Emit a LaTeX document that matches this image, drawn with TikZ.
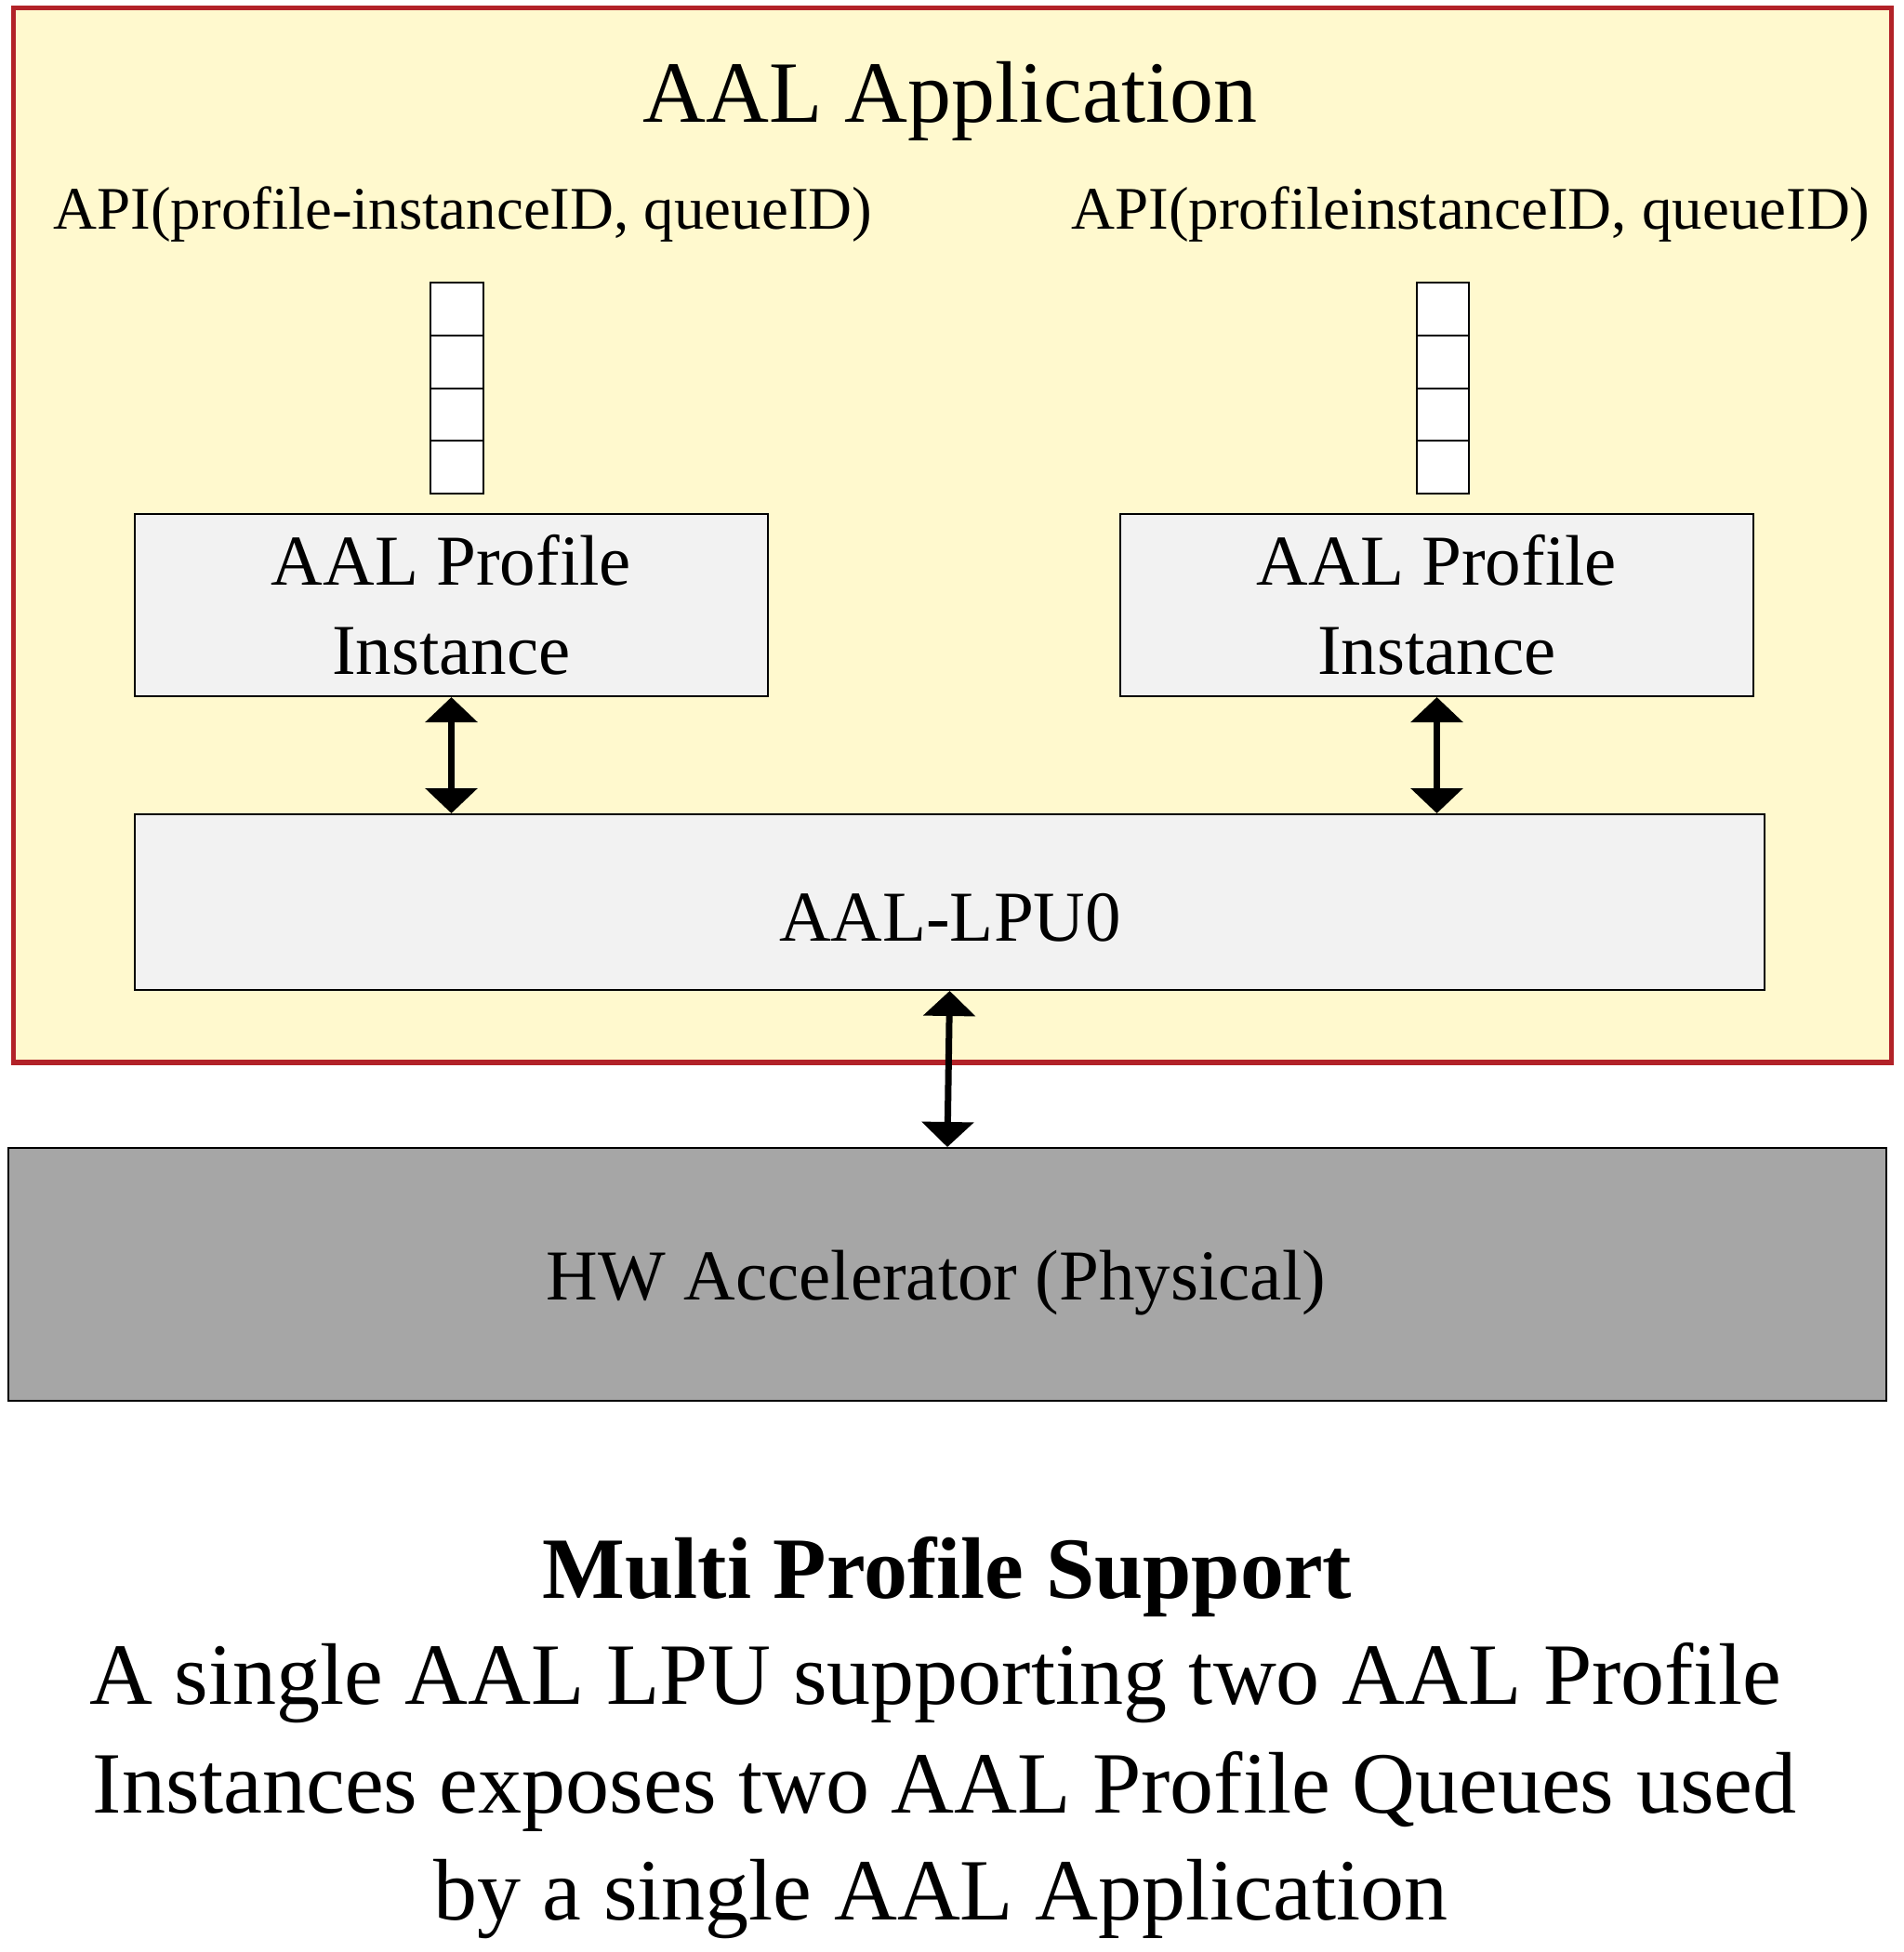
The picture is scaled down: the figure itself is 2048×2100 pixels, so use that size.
\documentclass[tikz,border=0pt]{standalone}
\usepackage{fontspec}
\setmainfont{Liberation Serif}
\usetikzlibrary{arrows.meta,fit}
\definecolor{appfill}{HTML}{FFF9CE}
\definecolor{appred}{HTML}{B22228}
\definecolor{boxfill}{HTML}{F2F2F2}
\definecolor{hwfill}{HTML}{A6A6A6}
\tikzset{
  plainbox/.style={draw=black, line width=1pt, inner sep=0pt, fill=boxfill},
  cell/.style={draw=black, line width=1pt, inner sep=0pt, fill=white},
  biarrow/.style={line width=3.5pt, {Triangle[width=27.5pt,length=13.5pt]}-{Triangle[width=27.5pt,length=13.5pt]}},
  bigtext/.style={font={\fontsize{47pt}{56pt}\selectfont}},
  apitext/.style={font={\fontsize{32.5pt}{39pt}\selectfont}},
  boxtext/.style={font={\fontsize{38.5pt}{48pt}\selectfont}},
}
\begin{document}
\begin{tikzpicture}[x=0.5pt,y=-0.5pt]
\useasboundingbox (0,0) rectangle (2048,2100);
% application frame
\node[draw=appred, line width=2.7pt, fill=appfill, inner sep=0pt, fit={(14.5,8.5)(2034.5,1143)}] (app) {};
\node[bigtext, anchor=base] (title) at (1022,131) {AAL Application};
\node[apitext, anchor=base] (apiL) at (498,246) {API(profile-instanceID, queueID)};
\node[apitext, anchor=base] (apiR) at (1582,246) {API(profileinstanceID, queueID)};
% queues
\node[cell, fit={(463,304)(520,361)}] (qL1) {};
\node[cell, fit={(463,361)(520,417.5)}] (qL2) {};
\node[cell, fit={(463,417.5)(520,474)}] (qL3) {};
\node[cell, fit={(463,474)(520,531)}] (qL4) {};
\node[cell, fit={(1524,304)(1580,361)}] (qR1) {};
\node[cell, fit={(1524,361)(1580,417.5)}] (qR2) {};
\node[cell, fit={(1524,417.5)(1580,474)}] (qR3) {};
\node[cell, fit={(1524,474)(1580,531)}] (qR4) {};
% profile instances
\node[plainbox, fit={(145,553)(826,749)}] (profL) {};
\node[boxtext, align=center] (profLtext) at (profL.center) {AAL Profile\\Instance};
\node[plainbox, fit={(1205,553)(1886,749)}] (profR) {};
\node[boxtext, align=center] (profRtext) at (profR.center) {AAL Profile\\Instance};
% LPU
\node[plainbox, fit={(145,876)(1898,1065)}] (lpu) {};
\node[boxtext, anchor=base] (lputext) at (1022,1012) {AAL-LPU0};
% HW
\node[draw=black, line width=1pt, fill=hwfill, inner sep=0pt, fit={(9,1235)(2029,1507)}] (hw) {};
\node[boxtext, anchor=base] (hwtext) at (1007,1398) {HW Accelerator (Physical)};
% arrows
\draw[biarrow] (profL.south) -- (profL.south |- lpu.north);
\draw[biarrow] (profR.south) -- (profR.south |- lpu.north);
\draw[biarrow] (lpu.south) -- (hw.north);
% caption
\node[bigtext, anchor=base, font={\fontsize{47pt}{56pt}\selectfont\bfseries}] (cap0) at (1019,1719) {Multi Profile Support};
\node[bigtext, anchor=base] (cap1) at (1006,1833) {A single AAL LPU supporting two AAL Profile};
\node[bigtext, anchor=base] (cap2) at (1016,1950) {Instances exposes two AAL Profile Queues used};
\node[bigtext, anchor=base] (cap3) at (1012,2065) {by a single AAL Application};
\end{tikzpicture}
\end{document}
